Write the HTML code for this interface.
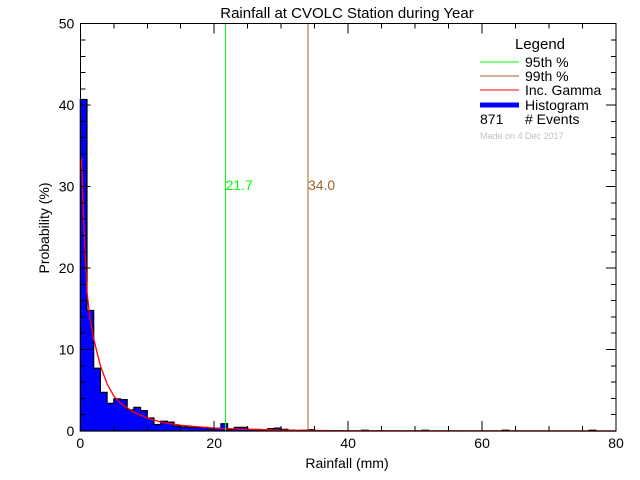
<!DOCTYPE html>
<html><head><meta charset="utf-8"><style>
body{margin:0;background:#fff;}
svg{display:block;font-family:"Liberation Sans","DejaVu Sans",sans-serif;}
</style></head><body>
<svg id="chart" width="640" height="480" viewBox="0 0 640 480">
<rect width="640" height="480" fill="#fff"/>
<text x="347" y="18" font-size="15" text-anchor="middle">Rainfall at CVOLC Station during Year</text>
<g id="marks"></g>
<g id="axes" shape-rendering="crispEdges"></g>
<text x="347" y="468" font-size="14" text-anchor="middle">Rainfall (mm)</text>
<text transform="translate(49,228) rotate(-90)" font-size="14" text-anchor="middle">Probability (%)</text>
<g font-size="14">
<text x="540" y="49" text-anchor="middle" font-size="15">Legend</text>
<line x1="480" y1="62" x2="519" y2="62" stroke="#00ff00"/>
<text x="525" y="67">95th %</text>
<line x1="480" y1="76" x2="519" y2="76" stroke="#a0642d"/>
<text x="525" y="81">99th %</text>
<line x1="480" y1="90" x2="519" y2="90" stroke="#ff0000"/>
<text x="525" y="95">Inc. Gamma</text>
<line x1="480" y1="105" x2="519" y2="105" stroke="#0000ff" stroke-width="5"/>
<text x="525" y="110">Histogram</text>
<text x="480" y="124">871</text>
<text x="525" y="124"># Events</text>
<text x="480" y="139" font-size="9" fill="#c0c0c0">Made on 4 Dec 2017</text>
</g>
</svg>
<script>
const histValues=[40.7,14.8,7.7,4.75,3.4,3.95,3.85,2.6,2.9,2.5,1.6,0.8,1.2,1.1,0.6,0.5,0.45,0.45,0.45,0.25,0.35,0.9,0.2,0.45,0.45,0.2,0.2,0.15,0.3,0.35,0.2,0.1,0,0.1,0.15,0,0,0,0,0,0,0,0.1,0,0,0,0,0,0,0,0,0.1,0,0,0,0,0,0,0,0,0,0,0,0.1,0,0,0,0,0,0,0,0,0,0,0,0,0.1,0,0,0];
const gammaX=[0.2,0.4,0.6,1,1.5,2,3,4,5,6,8,10,12,15,20,25,30,40,80];
const gammaY=[33.5,28,24,17,13.5,11.3,8,5.8,4.3,3.4,2.3,1.6,1.1,0.7,0.35,0.2,0.1,0.03,0];
const percentiles=[21.7,34.0];
const percentileLabels=["21.7","34.0"];
const xTicks=[0,20,40,60,80];
const yTicks=[0,10,20,30,40,50];
const L=80.3,R=616,T=23.7,B=431,XMAX=80,YMAX=50;
const sx=v=>L+(R-L)*v/XMAX, sy=v=>B-(B-T)*v/YMAX;
const NS="http://www.w3.org/2000/svg";
const marks=document.getElementById('marks'), axes=document.getElementById('axes');
function mk(tag,attrs,parent){const e=document.createElementNS(NS,tag);for(const k in attrs)e.setAttribute(k,attrs[k]);parent.appendChild(e);return e;}
let d="M"+sx(0)+","+sy(0);
histValues.forEach((v,i)=>{d+=" L"+sx(i)+","+sy(v)+" L"+sx(i+1)+","+sy(v);});
d+=" L"+sx(histValues.length)+","+sy(0)+" Z";
const hf=mk('path',{d:d,fill:'#0000ff',stroke:'#000','stroke-width':1.2},marks);


const gp=mk('polyline',{points:gammaX.map((x,i)=>sx(x)+","+sy(gammaY[i])).join(" "),fill:'none',stroke:'#ff0000','stroke-width':1.3},marks);


const pColors=['#00ff00','#a0642d'];
percentiles.forEach((p,i)=>{
 const ln=mk('line',{x1:sx(p),x2:sx(p),y1:T,y2:B,stroke:pColors[i],'shape-rendering':'crispEdges'},marks);
 
 
 const t=mk('text',{x:sx(p),y:sy(29.6),fill:pColors[i],'font-size':14},marks);
 t.textContent=percentileLabels[i];
 
 
});
const fr=mk('rect',{x:L,y:T,width:R-L,height:B-T,fill:'none',stroke:'#000','stroke-width':1},axes);


for(let v=0;v<=XMAX;v+=5){const big=v%20===0;
 mk('line',{x1:sx(v),x2:sx(v),y1:B,y2:B-(big?10:5),stroke:'#000'},axes);
 mk('line',{x1:sx(v),x2:sx(v),y1:T,y2:T+(big?10:5),stroke:'#000'},axes);}
for(let v=0;v<=YMAX;v+=2){const big=v%10===0;
 mk('line',{x1:L,x2:L+(big?10:5),y1:sy(v),y2:sy(v),stroke:'#000'},axes);
 mk('line',{x1:R,x2:R-(big?10:5),y1:sy(v),y2:sy(v),stroke:'#000'},axes);}
xTicks.forEach(v=>{const t=mk('text',{x:sx(v),y:B+17,'font-size':14,'text-anchor':'middle'},axes);t.textContent=v;
 
 });
yTicks.forEach(v=>{const t=mk('text',{x:L-6,y:sy(v)+5,'font-size':14,'text-anchor':'end'},axes);t.textContent=v;
 
 });
</script>
</body></html>
